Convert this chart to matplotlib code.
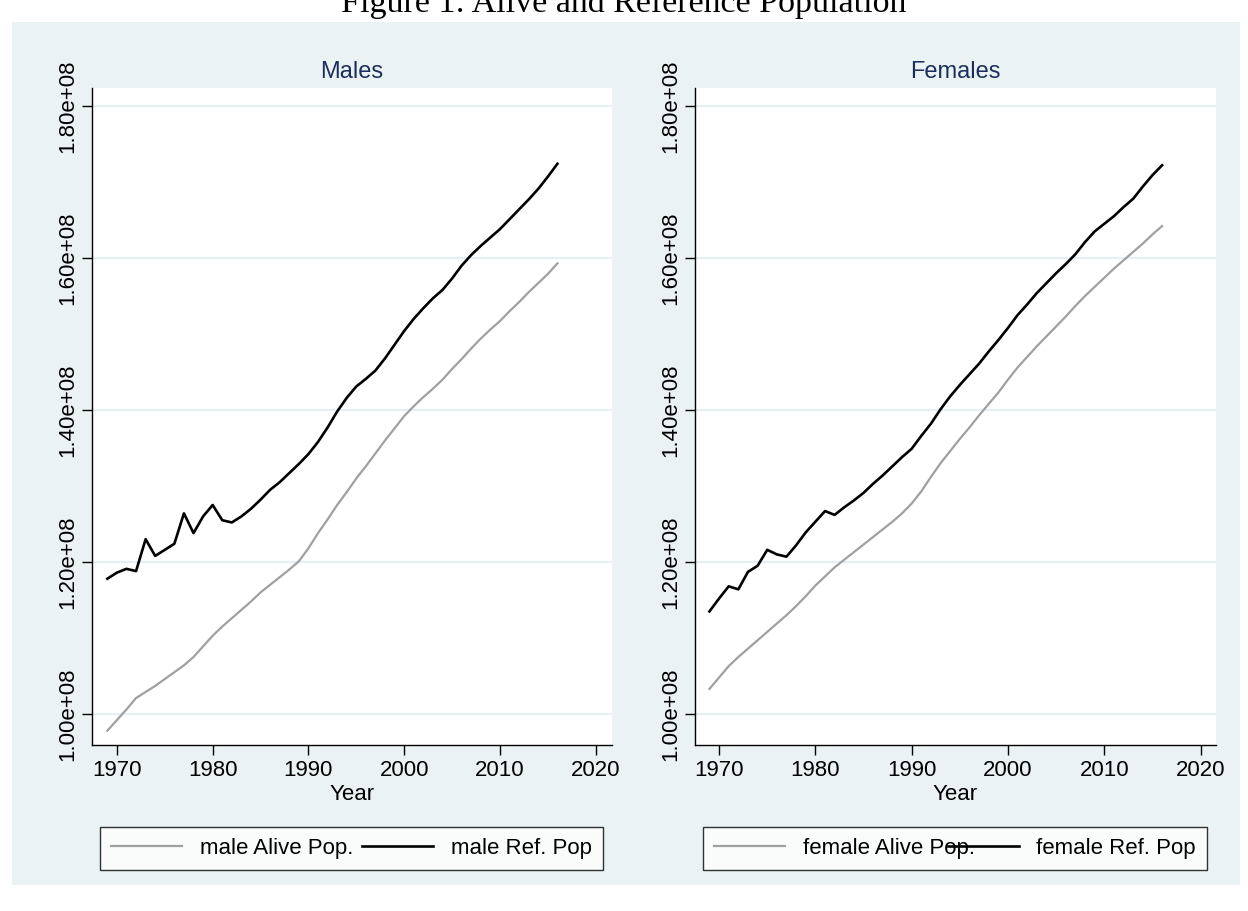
import matplotlib
matplotlib.use("Agg")
import matplotlib.pyplot as plt
from matplotlib.patches import Rectangle
from matplotlib.ticker import FuncFormatter

years = list(range(1969, 2017))

male_alive = [
    0.978, 0.992, 1.006, 1.021, 1.029, 1.037, 1.046, 1.055, 1.064, 1.075,
    1.089, 1.103, 1.115, 1.126, 1.137, 1.148, 1.160, 1.170, 1.180, 1.190,
    1.201, 1.218, 1.238, 1.256, 1.275, 1.292, 1.310, 1.326, 1.343, 1.360,
    1.376, 1.392, 1.405, 1.417, 1.428, 1.440, 1.454, 1.467, 1.481, 1.494,
    1.506, 1.517, 1.530, 1.542, 1.555, 1.567, 1.579, 1.593,
]
male_ref = [
    1.178, 1.186, 1.191, 1.188, 1.230, 1.208, 1.216, 1.224, 1.264, 1.238,
    1.260, 1.275, 1.255, 1.252, 1.260, 1.270, 1.282, 1.295, 1.305, 1.317,
    1.329, 1.342, 1.358, 1.377, 1.398, 1.416, 1.431, 1.441, 1.452, 1.468,
    1.486, 1.504, 1.520, 1.534, 1.547, 1.558, 1.573, 1.590, 1.604, 1.616,
    1.627, 1.638, 1.651, 1.664, 1.677, 1.691, 1.707, 1.724,
]
female_alive = [
    1.033, 1.048, 1.063, 1.075, 1.086, 1.097, 1.108, 1.119, 1.130, 1.142,
    1.155, 1.169, 1.181, 1.193, 1.203, 1.213, 1.223, 1.233, 1.243, 1.253,
    1.264, 1.277, 1.293, 1.312, 1.330, 1.346, 1.362, 1.377, 1.393, 1.408,
    1.423, 1.440, 1.456, 1.470, 1.484, 1.497, 1.510, 1.523, 1.537, 1.550,
    1.562, 1.574, 1.586, 1.597, 1.608, 1.619, 1.631, 1.642,
]
female_ref = [
    1.135, 1.152, 1.168, 1.164, 1.187, 1.195, 1.216, 1.210, 1.207, 1.222,
    1.239, 1.253, 1.267, 1.262, 1.272, 1.281, 1.291, 1.303, 1.314, 1.326,
    1.338, 1.349, 1.366, 1.382, 1.401, 1.418, 1.433, 1.447, 1.461, 1.477,
    1.492, 1.508, 1.525, 1.539, 1.554, 1.567, 1.580, 1.592, 1.605, 1.621,
    1.635, 1.645, 1.655, 1.667, 1.678, 1.694, 1.709, 1.722,
]

panels = [
    ("Males", "male", male_alive, male_ref),
    ("Females", "female", female_alive, female_ref),
]

x_ticks = [1970, 1980, 1990, 2000, 2010, 2020]
y_ticks = [1.0e8, 1.2e8, 1.4e8, 1.6e8, 1.8e8]

BG = "#eaf2f3"
GRID = "#e6eff2"
TITLE_COLOR = "#1c2f5c"
ALIVE_COLOR = "#a0a0a0"

plt.rcParams["font.family"] = ["Liberation Sans", "DejaVu Sans"]

W, H = 1248, 911
fig = plt.figure(figsize=(W / 100, H / 100), dpi=100)
fig.patch.set_facecolor("white")

# light blue graph region behind both panels
bg = Rectangle((12 / W, 1 - 885 / H), (1240 - 12) / W, (885 - 22) / H,
               transform=fig.transFigure, facecolor=BG, edgecolor="none", zorder=-10)
fig.patches.append(bg)

# the figure caption sits partly above the top edge, as in the source image
fig.text(0.5, 1 - 12 / H, "Figure 1: Alive and Reference Population",
         ha="center", va="baseline", fontsize=24.5, family=["Liberation Serif", "DejaVu Serif"])

axes_boxes = [(92, 612), (695, 1216)]
xlims = [(1967.4, 2021.7), (1967.5, 2021.6)]

for (title, sex, alive, ref), (x0, x1), xl in zip(panels, axes_boxes, xlims):
    ax = fig.add_axes([x0 / W, 1 - 745 / H, (x1 - x0) / W, (745 - 88) / H])
    ax.set_zorder(1)
    ax.set_facecolor("white")
    ax.plot(years, [v * 1e8 for v in alive], color=ALIVE_COLOR, lw=1.6, label=f"{sex} Alive Pop.")
    ax.plot(years, [v * 1e8 for v in ref], color="black", lw=1.9, label=f"{sex} Ref. Pop")

    ax.set_xlim(*xl)
    ax.set_ylim(0.9592e8, 1.8237e8)
    ax.set_xticks(x_ticks)
    ax.set_yticks(y_ticks)
    ax.yaxis.set_major_formatter(FuncFormatter(lambda v, p: f"{v:.2e}"))
    for lab in ax.get_yticklabels():
        lab.set_rotation(90)
        lab.set_va("center")
    ax.yaxis.grid(True, color=GRID, lw=1.6)
    ax.set_axisbelow(True)
    ax.tick_params(axis="both", labelsize=16, length=7, width=1, color="black")
    ax.tick_params(axis="y", pad=3)
    ax.tick_params(axis="x", pad=4)
    for side in ("top", "right"):
        ax.spines[side].set_visible(False)
    for side in ("left", "bottom"):
        ax.spines[side].set_color("black")
        ax.spines[side].set_linewidth(1.0)

    ax.set_xlabel("Year", fontsize=16, labelpad=2)
    ax.set_title(title, fontsize=17, color=TITLE_COLOR, pad=7)

    leg = ax.legend(ncol=2, loc="lower left", mode="expand",
                    bbox_to_anchor=(0.015, -0.19, 0.968, 0.065),
                    frameon=True, fancybox=False, edgecolor="black",
                    fontsize=16, handlelength=3.2, handletextpad=0.8,
                    columnspacing=1.0, borderpad=0.5, borderaxespad=0)
    leg.get_frame().set_linewidth(1.0)

fig.savefig("out.png", dpi=100)
